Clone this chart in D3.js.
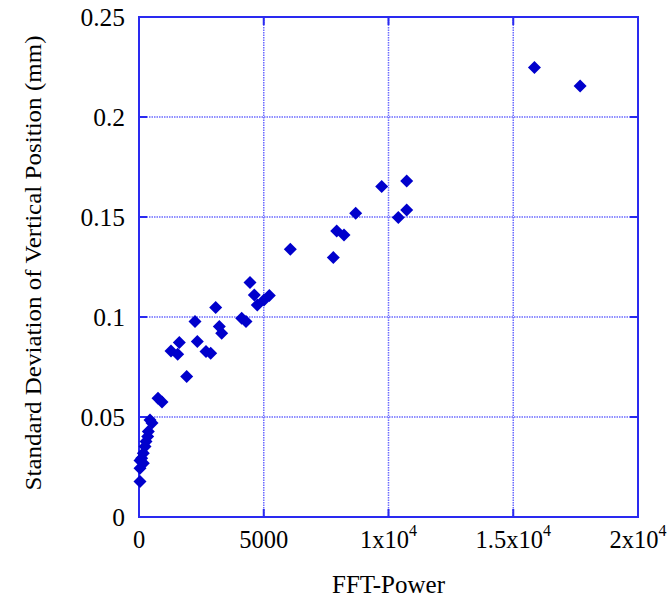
<!DOCTYPE html>
<html><head><meta charset="utf-8">
<script src="https://cdn.jsdelivr.net/npm/d3@7"></script>
<style>body{margin:0;background:#fff}svg{display:block}
text{font-family:"Liberation Serif","Times New Roman",Tinos,"DejaVu Serif",serif;}</style>
</head><body>
<script>
const fftPower = [15850,17680,9727,10729,10729,10393,8685,7924,8216,7788,6064,4449,4621,5223,5010,4741,3074,2245,4116,4289,3218,3315,1615,2337,1283,1551,2685,2874,1912,762,922,441,521,373,349,281,240,172,108,40,172,40,40];
const stdDev = [0.2247,0.2155,0.1652,0.168,0.1535,0.1497,0.1519,0.143,0.141,0.1297,0.1339,0.1172,0.111,0.1107,0.1085,0.106,0.1047,0.0977,0.0994,0.0977,0.0952,0.0919,0.0872,0.0877,0.083,0.0814,0.0827,0.0819,0.0702,0.0594,0.0575,0.0485,0.047,0.0427,0.0402,0.0377,0.0352,0.0319,0.0294,0.0282,0.0269,0.0244,0.0177];
const xTicks = [0,5000,10000,15000,20000];
const xTickLabels = ["0","5000","1x10|4","1.5x10|4","2x10|4"];
const yTicks = [0,0.05,0.1,0.15,0.2,0.25];
const yTickLabels = ["0","0.05","0.1","0.15","0.2","0.25"];
const xTitle = "FFT-Power";
const yTitle = "Standard Deviation of Vertical Position (mm)";

const W=667,H=600;
const L=139,R=638,T=17,B=517;
const svg=d3.select("body").append("svg").attr("width",W).attr("height",H);
const x=d3.scaleLinear().domain([0,20000]).range([L,R]);
const y=d3.scaleLinear().domain([0,0.25]).range([B,T]);
const frameCol="#2a2af0", gridCol="#6b6bff";

// grid
const g=svg.append("g");
g.selectAll(".vg").data(xTicks.slice(1,-1)).enter().append("line")
 .attr("x1",d=>x(d)).attr("x2",d=>x(d)).attr("y1",T).attr("y2",B)
 .attr("stroke",gridCol).attr("stroke-width",1.5).attr("stroke-dasharray","1.5,1");
g.selectAll(".hg").data(yTicks.slice(1,-1)).enter().append("line")
 .attr("y1",d=>y(d)).attr("y2",d=>y(d)).attr("x1",L).attr("x2",R)
 .attr("stroke",gridCol).attr("stroke-width",1.5).attr("stroke-dasharray","1.5,1");

// ticks (inward, mirrored)
const tk=8;
xTicks.slice(1,-1).forEach(v=>{
  g.append("line").attr("x1",x(v)).attr("x2",x(v)).attr("y1",B).attr("y2",B-tk).attr("stroke",frameCol).attr("stroke-width",2);
  g.append("line").attr("x1",x(v)).attr("x2",x(v)).attr("y1",T).attr("y2",T+tk).attr("stroke",frameCol).attr("stroke-width",2);
});
yTicks.slice(1,-1).forEach(v=>{
  g.append("line").attr("y1",y(v)).attr("y2",y(v)).attr("x1",L).attr("x2",L+tk).attr("stroke",frameCol).attr("stroke-width",2);
  g.append("line").attr("y1",y(v)).attr("y2",y(v)).attr("x1",R).attr("x2",R-tk).attr("stroke",frameCol).attr("stroke-width",2);
});

// frame
svg.append("rect").attr("x",L).attr("y",T).attr("width",R-L).attr("height",B-T)
 .attr("fill","none").attr("stroke",frameCol).attr("stroke-width",2);

// points
const s=6.5;
svg.append("g").selectAll("path").data(fftPower.map((v,i)=>[v,stdDev[i]])).enter().append("path")
 .attr("d",`M0,${-s}L${s},0L0,${s}L${-s},0Z`)
 .attr("transform",d=>`translate(${x(d[0])},${y(d[1])})`)
 .attr("fill","#0000cc");

// y tick labels
svg.append("g").selectAll("text").data(yTicks).enter().append("text")
 .attr("x",L-14).attr("y",d=>y(d)).attr("dy","0.35em").attr("text-anchor","end")
 .attr("font-size",25.5).attr("fill","#000")
 .text((d,i)=>yTickLabels[i]);

// x tick labels
const xl=svg.append("g");
xTicks.forEach((v,i)=>{
  const parts=xTickLabels[i].split("|");
  const t=xl.append("text").attr("x",x(v)).attr("y",548).attr("text-anchor","middle")
   .attr("font-size",24.5).attr("fill","#000");
  t.append("tspan").text(parts[0]);
  if(parts[1]) t.append("tspan").attr("dy",-12).attr("font-size",16).text(parts[1]);
});

// titles
svg.append("text").attr("x",(L+R)/2).attr("y",593).attr("text-anchor","middle")
 .attr("font-size",25).attr("fill","#000").text(xTitle);
svg.append("text").attr("transform",`translate(41,263) rotate(-90)`).attr("text-anchor","middle")
 .attr("font-size",24).attr("textLength",455).attr("lengthAdjust","spacingAndGlyphs")
 .attr("fill","#000").text(yTitle);
</script>
</body></html>
